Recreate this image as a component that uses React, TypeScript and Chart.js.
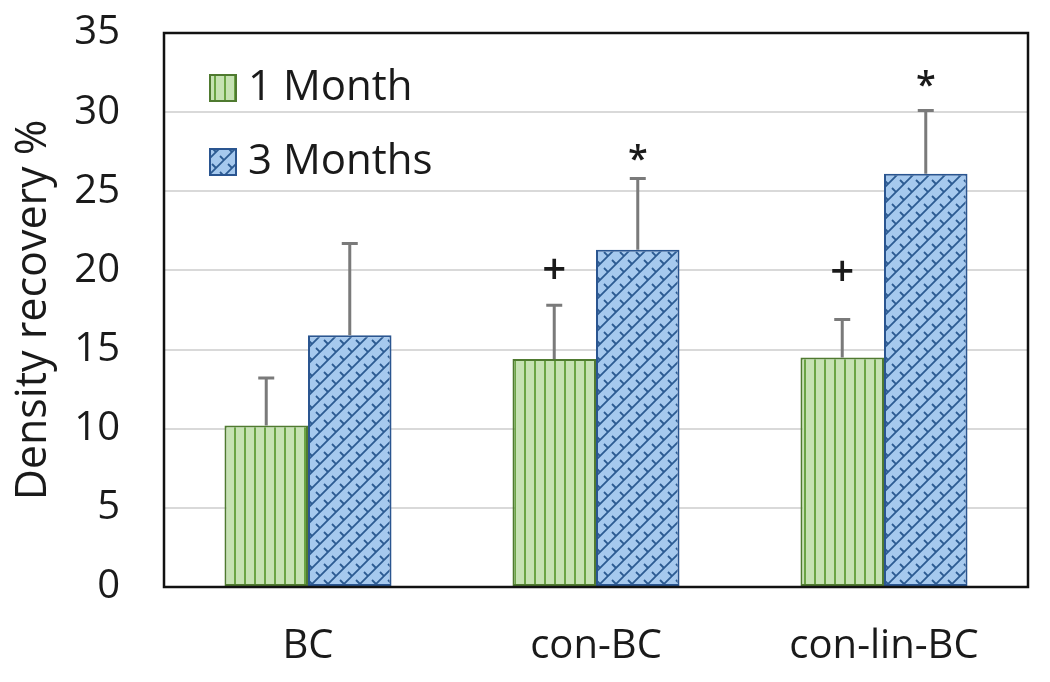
import React, { useEffect, useRef } from "react";
import { Chart, registerables } from "chart.js";

Chart.register(...registerables);

const categories = ["BC", "con-BC", "con-lin-BC"];
const seriesNames = ["1 Month", "3 Months"];
const oneMonth = [10.2, 14.4, 14.5];
const threeMonths = [15.9, 21.3, 26.1];
const oneMonthErrTop = [13.2, 17.8, 16.9];
const threeMonthsErrTop = [21.7, 25.8, 30.1];
const oneMonthMarks = ["", "+", "+"];
const threeMonthsMarks = ["", "*", "*"];
const oneMonthMarkLevel = [0, 19.9, 19.8];
const threeMonthsMarkLevel = [0, 27.3, 32.0];
const yTicks = [0, 5, 10, 15, 20, 25, 30, 35];

const FONT = "'Open Sans', 'Noto Sans', sans-serif";
const TEXT = "#1a1a1a";

function makeStripePattern(): CanvasPattern | string {
  const c = document.createElement("canvas");
  c.width = 10;
  c.height = 10;
  const g = c.getContext("2d");
  if (!g) return "#c5e0b4";
  g.fillStyle = "#c6e2b3";
  g.fillRect(0, 0, 10, 10);
  g.fillStyle = "#6aa444";
  g.fillRect(4, 0, 2, 10);
  return g.createPattern(c, "repeat") || "#c5e0b4";
}

function makeWeavePattern(): CanvasPattern | string {
  const s = 16;
  const c = document.createElement("canvas");
  c.width = s;
  c.height = s;
  const g = c.getContext("2d");
  if (!g) return "#9dc3e6";
  g.fillStyle = "#a6c9ee";
  g.fillRect(0, 0, s, s);
  g.strokeStyle = "#2c5b92";
  g.lineWidth = 1.8;
  g.lineCap = "butt";
  g.beginPath();
  g.moveTo(-2, s + 2);
  g.lineTo(s + 2, -2);
  g.moveTo(-s / 2 - 2, s / 2 + 2);
  g.lineTo(s / 2 + 2, -s / 2 - 2);
  g.moveTo(s / 2 - 2, s + s / 2 + 2);
  g.lineTo(s + s / 2 + 2, s / 2 - 2);
  g.stroke();
  g.beginPath();
  g.moveTo(s / 4, s / 4);
  g.lineTo(s / 2, s / 2);
  g.moveTo((3 * s) / 4, (3 * s) / 4);
  g.lineTo(s, s);
  g.stroke();
  return g.createPattern(c, "repeat") || "#9dc3e6";
}

export default function App() {
  const ref = useRef<HTMLCanvasElement | null>(null);

  useEffect(() => {
    if (!ref.current) return;
    const stripe = makeStripePattern();
    const weave = makeWeavePattern();
    const errTops = [oneMonthErrTop, threeMonthsErrTop];
    const marks = [oneMonthMarks, threeMonthsMarks];
    const markLevels = [oneMonthMarkLevel, threeMonthsMarkLevel];

    const overlay = {
      id: "overlay",
      afterDatasetsDraw(chart: any) {
        const ctx = chart.ctx;
        const y = chart.scales.y;
        ctx.save();
        for (let d = 0; d < 2; d++) {
          const meta = chart.getDatasetMeta(d);
          meta.data.forEach((bar: any, i: number) => {
            const top = y.getPixelForValue(errTops[d][i]);
            ctx.strokeStyle = "#7a7a7a";
            ctx.lineWidth = 3;
            ctx.beginPath();
            ctx.moveTo(bar.x, bar.y);
            ctx.lineTo(bar.x, top);
            ctx.moveTo(bar.x - 8, top);
            ctx.lineTo(bar.x + 8, top);
            ctx.stroke();
            const m = marks[d][i];
            if (m) {
              ctx.fillStyle = TEXT;
              ctx.textAlign = "center";
              ctx.textBaseline = "middle";
              ctx.font = m === "+" ? `600 42px ${FONT}` : `600 36px ${FONT}`;
              const my = y.getPixelForValue(markLevels[d][i]);
              ctx.fillText(m, bar.x, m === "*" ? my + 6 : my);
            }
          });
        }
        const a = chart.chartArea;
        ctx.strokeStyle = "#111";
        ctx.lineWidth = 2.5;
        ctx.strokeRect(a.left, a.top, a.right - a.left, a.bottom - a.top);
        const fills = [stripe, weave];
        const borders = ["#4f7a30", "#2a5590"];
        const ly = [88, 162];
        for (let d = 0; d < 2; d++) {
          const bx = 210;
          const by = ly[d] - 13;
          ctx.fillStyle = fills[d] as any;
          ctx.fillRect(bx, by, 26, 26);
          ctx.strokeStyle = borders[d];
          ctx.lineWidth = 2;
          ctx.strokeRect(bx, by, 26, 26);
          ctx.fillStyle = TEXT;
          ctx.textAlign = "left";
          ctx.textBaseline = "middle";
          ctx.font = `42px ${FONT}`;
          ctx.fillText(seriesNames[d], 248, ly[d]);
        }
        ctx.restore();
      },
    };

    const chart = new Chart(ref.current, {
      type: "bar",
      data: {
        labels: categories,
        datasets: [
          {
            label: seriesNames[0],
            data: oneMonth,
            backgroundColor: stripe as any,
            borderColor: "#4f7a30",
            borderWidth: 2,
            borderSkipped: false,
          },
          {
            label: seriesNames[1],
            data: threeMonths,
            backgroundColor: weave as any,
            borderColor: "#2a5590",
            borderWidth: 2,
            borderSkipped: false,
          },
        ],
      },
      options: {
        animation: false,
        responsive: true,
        maintainAspectRatio: false,
        layout: { padding: { top: 33, right: 22, left: 0, bottom: 0 } },
        datasets: {
          bar: { categoryPercentage: 0.58, barPercentage: 1.0 },
        },
        plugins: {
          legend: { display: false },
          tooltip: { enabled: false },
        },
        scales: {
          x: {
            grid: { display: false, drawTicks: false },
            border: { display: false },
            ticks: {
              color: TEXT,
              font: { family: FONT, size: 40 },
              padding: 36,
            },
            afterFit(scale: any) {
              scale.height = 682 - 587;
              scale.paddingLeft = 0;
              scale.paddingRight = 0;
            },
          },
          y: {
            min: 0,
            max: 35,
            afterBuildTicks(scale: any) {
              scale.ticks = yTicks.map((v) => ({ value: v }));
            },
            grid: { color: "#d9d9d9", lineWidth: 2, drawTicks: false },
            border: { display: false },
            ticks: {
              color: TEXT,
              font: { family: FONT, size: 40 },
              padding: 44,
            },
            title: {
              display: true,
              text: "Density recovery %",
              color: TEXT,
              font: { family: FONT, size: 43 },
              padding: { top: 8, bottom: 0 },
            },
            afterFit(scale: any) {
              scale.width = 164;
              scale.paddingTop = 0;
              scale.paddingBottom = 0;
            },
          },
        },
      },
      plugins: [overlay],
    });
    return () => chart.destroy();
  }, []);

  return (
    <div style={{ position: "fixed", left: 0, top: 0, width: 1050, height: 682, background: "#fff" }}>
      <canvas ref={ref} />
    </div>
  );
}
